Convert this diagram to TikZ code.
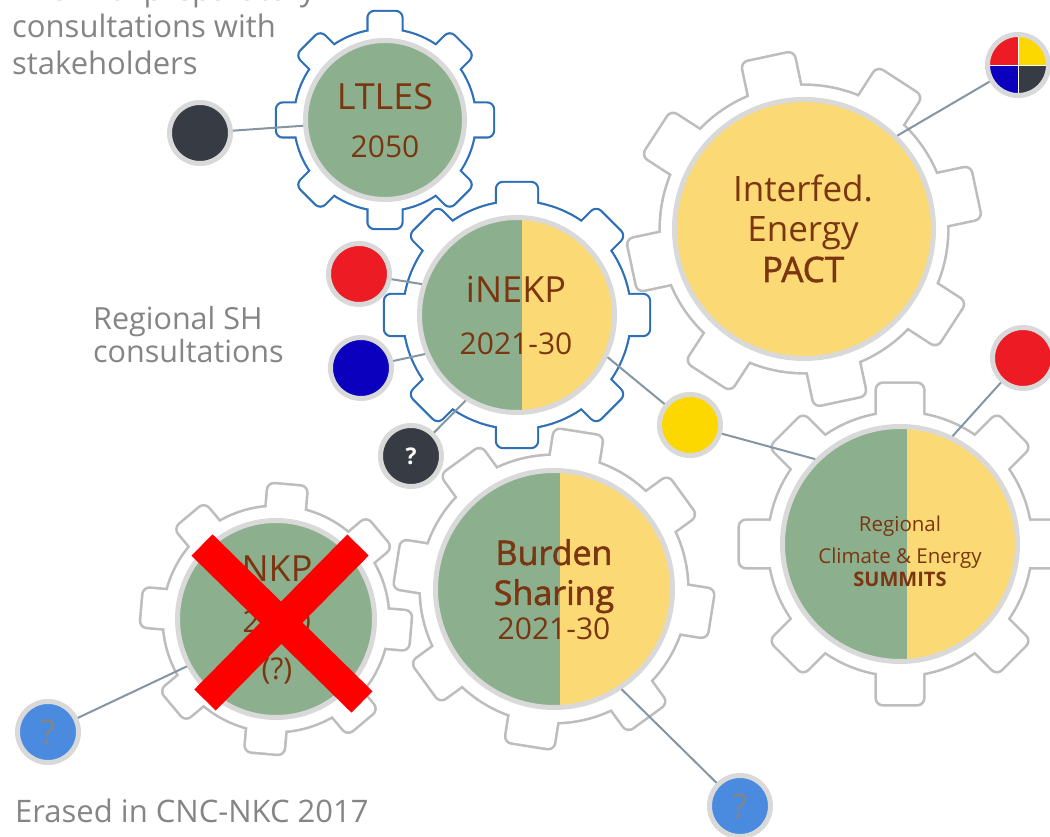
\documentclass[tikz,border=0pt]{standalone}
\usepackage{fontspec}
\setmainfont{Open Sans}
\newfontfamily\semib[FakeBold=1.5]{Open Sans}
\definecolor{ringgrey}{HTML}{D9D9D9}
\definecolor{sage}{HTML}{8CB08E}
\definecolor{sun}{HTML}{FBDA75}
\definecolor{brownt}{HTML}{7B3510}
\definecolor{geargrey}{HTML}{BDBDBD}
\definecolor{gearblue}{HTML}{2E70B8}
\definecolor{connc}{HTML}{8496A3}
\definecolor{darkc}{HTML}{363B44}
\definecolor{redc}{HTML}{ED1C24}
\definecolor{bluec}{HTML}{0A00BE}
\definecolor{yelc}{HTML}{FDD700}
\definecolor{lblue}{HTML}{4A8ADF}
\definecolor{annot}{HTML}{858585}
\newcommand\gear[7]{% #1 colour #2 centre #3 rot #4 Rb #5 Rt #6 halfw #7 lw
 \begin{scope}[shift={#2},rotate=#3]
  \foreach \k in {0,...,7}{\draw[#1,line width=2*#7,rounded corners=6pt,rotate=\k*45] (#4-25,-#6) rectangle (#5,#6);}
  \draw[#1,line width=2*#7] (0,0) circle (#4);
  \foreach \k in {0,...,7}{\fill[white,rounded corners=6pt,rotate=\k*45] (#4-25,-#6) rectangle (#5,#6);}
  \fill[white] (0,0) circle (#4);
 \end{scope}}
\tikzset{
 ring/.style={circle,draw=ringgrey,line width=5pt,inner sep=0pt},
 small/.style={ring,minimum size=61pt},
 conn/.style={draw=connc,line width=2pt},
 brown/.style={text=brownt,anchor=base,inner sep=0pt},
 annotext/.style={text=annot,anchor=base west,inner sep=0pt,font=\fontsize{31}{36}\selectfont},
 cross/.style={draw=red,line width=30pt}
}
\begin{document}
\begin{tikzpicture}[x=1pt,y=1pt]
\useasboundingbox (0,0) rectangle (1050,837);
\fill[white] (0,0) rectangle (1050,837);
% gears
\gear{geargrey}{(804,608)}{12}{143}{175}{26}{2.6pt}
\gear{geargrey}{(900,293)}{0}{131}{160}{23}{2.6pt}
\gear{geargrey}{(554,248)}{-9}{133}{158}{24}{2.6pt}
\gear{geargrey}{(276,218)}{-5}{112}{134}{19}{2.6pt}
\gear{gearblue}{(517,522)}{0}{113}{132}{20}{2.2pt}
\gear{gearblue}{(385,717)}{0}{90}{108}{16.5}{2.2pt}
% split fills
\begin{scope}\clip (517,522) circle (98);
 \fill[sage] (400,400) rectangle (522,640); \fill[sun] (522,400) rectangle (640,640);
\end{scope}
\begin{scope}\clip (900,293) circle (118);
 \fill[sage] (770,160) rectangle (907,420); \fill[sun] (907,160) rectangle (1030,420);
\end{scope}
\begin{scope}\clip (554,248) circle (119);
 \fill[sage] (420,120) rectangle (560,380); \fill[sun] (560,120) rectangle (690,380);
\end{scope}
% big circles
\node[ring,fill=sage,minimum size=159pt] (ltles) at (385,717) {};
\node[ring,minimum size=195pt] (inekp) at (517,522) {};
\node[ring,fill=sun,minimum size=259pt] (pact) at (804,608) {};
\node[ring,minimum size=235pt] (summits) at (900,293) {};
\node[ring,minimum size=237pt] (burden) at (554,248) {};
\node[ring,fill=sage,minimum size=197pt] (nkp) at (276,218) {};
% texts in circles
\node[brown,font=\fontsize{36}{40}\selectfont] (t1) at (385,727) {LTLES};
\node[brown,font=\fontsize{30}{34}\selectfont] (t2) at (385,679) {2050};
\node[brown,font=\fontsize{36}{40}\selectfont] (t3) at (516,534) {iNEKP};
\node[brown,font=\fontsize{30}{34}\selectfont] (t4) at (516,482) {2021-30};
\node[brown,font=\fontsize{35}{40}\selectfont] (t5) at (803,635) {Interfed.};
\node[brown,font=\fontsize{35}{40}\selectfont] (t6) at (803,595) {Energy};
\node[brown,font=\fontsize{35}{40}\semib] (t7) at (803,555) {PACT};
\node[brown,font=\fontsize{20.5}{24}\selectfont] (t8) at (900,305) {Regional};
\node[brown,font=\fontsize{20.5}{24}\selectfont] (t9) at (900,273) {Climate \& Energy};
\node[brown,font=\fontsize{20}{24}\bfseries] (t10) at (900,250) {SUMMITS};
\node[brown,font=\fontsize{34}{38}\semib] (t11) at (554,272) {Burden};
\node[brown,font=\fontsize{34}{38}\semib] (t12) at (554,232) {Sharing};
\node[brown,font=\fontsize{30}{34}\selectfont] (t13) at (554,197) {2021-30};
\node[brown,font=\fontsize{36}{40}\selectfont] (t14) at (277,255) {NKP};
\node[brown,font=\fontsize{30}{34}\selectfont] (t15) at (277,204) {2030};
\node[brown,font=\fontsize{30}{34}\selectfont] (t16) at (277,157) {(?)};
% red cross
\draw[cross] (202,292) -- (362,135);
\draw[cross] (358,292) -- (205,137);
% small circles
\node[small,fill=darkc] (dk1) at (200,704) {};
\node[small,fill=redc] (red1) at (359,563) {};
\node[small,fill=bluec] (blue1) at (361,469) {};
\node[small,fill=darkc,text=white,font=\fontsize{23}{28}\bfseries] (q1) at (411,381) {?};
\node[small,fill=yelc] (yel) at (690,412) {};
\node[small,fill=redc] (red2) at (1023,479) {};
\node[small,fill=lblue,text=annot,font=\fontsize{34}{38}\selectfont] (q2) at (48,105) {?};
\node[small,fill=lblue,text=annot,font=\fontsize{34}{38}\selectfont] (q3) at (740,31) {?};
\begin{scope}\clip (1018,772) circle (30);
 \fill[redc] (988,772) rectangle (1018,802); \fill[yelc] (1018,772) rectangle (1048,802);
 \fill[bluec] (988,742) rectangle (1018,772); \fill[darkc] (1018,742) rectangle (1048,772);
 \draw[white,line width=0.8pt] (988,772) -- (1048,772) (1018,742) -- (1018,802);
\end{scope}
\node[small] (four) at (1018,772) {};
% connectors
\draw[conn] (dk1) -- (ltles);
\draw[conn] (red1) -- (inekp.162);
\draw[conn] (blue1) -- (inekp.203);
\draw[conn] (q1) -- (inekp.239);
\draw[conn] (inekp.-25) -- (yel);
\draw[conn] (yel) -- (summits.135);
\draw[conn] (red2) -- (summits.64);
\draw[conn] (pact.45) -- (four);
\draw[conn] (nkp.208) -- (q2);
\draw[conn] (burden.-56) -- (q3);
% annotations
\node[annotext] (a1) at (12,836) {Informal preparatory};
\node[annotext] (a2) at (12,799) {consultations with};
\node[annotext] (a3) at (12,762) {stakeholders};
\node[annotext,font=\fontsize{30.5}{36}\selectfont] (a4) at (93,507) {Regional SH};
\node[annotext,font=\fontsize{30.5}{36}\selectfont] (a5) at (93,474) {consultations};
\node[annotext] (a6) at (15,14) {Erased in CNC-NKC 2017};
\end{tikzpicture}
\end{document}
